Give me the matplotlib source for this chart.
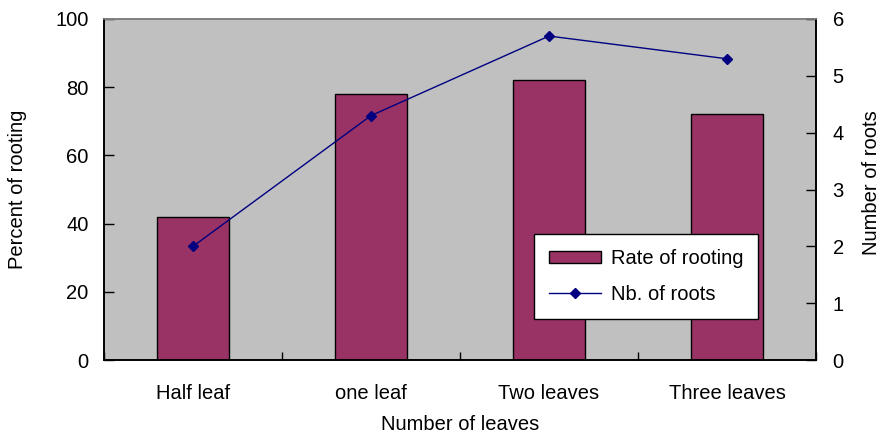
import numpy as np
import matplotlib.pyplot as plt
from matplotlib.lines import Line2D
from matplotlib.patches import Patch

# rooting results per cutting type
categories = ['Half leaf', 'one leaf', 'Two leaves', 'Three leaves']
rate_of_rooting = [42, 78, 82, 72]
no_of_roots = [2.0, 4.3, 5.7, 5.3]

plt.rcParams['font.family'] = ['Liberation Sans', 'DejaVu Sans']
fs = 14.5

fig = plt.figure(figsize=(8.83, 4.42), dpi=100)
ax = fig.add_axes([104 / 883, 1 - 360 / 442, 712 / 883, 341 / 442])
ax2 = ax.twinx()

x = np.arange(len(categories))
ax.bar(x, rate_of_rooting, width=0.4, color='#993366', edgecolor='black', linewidth=1, zorder=2)
ax.set_facecolor('#C0C0C0')
ax.set_xlim(-0.5, len(categories) - 0.5)
ax.set_ylim(0, 100)
ax.set_yticks(range(0, 101, 20))

ax2.plot(x, no_of_roots, color='#000080', marker='D', markersize=5, linewidth=1)
ax2.set_ylim(0, 6)
ax2.set_yticks(range(0, 7))

# category boundaries as ticks, labels centred under the bars
ax.set_xticks(np.arange(-0.5, len(categories), 1.0))
ax.set_xticklabels([])
ax.set_xticks(x, minor=True)
ax.set_xticklabels(categories, minor=True, fontsize=fs)
ax.tick_params(axis='x', which='minor', length=0, pad=17)
ax.tick_params(axis='x', which='major', direction='in', length=6, width=1)
ax.tick_params(axis='y', direction='in', length=7, width=1, labelsize=fs, pad=11)
ax2.tick_params(axis='y', direction='in', length=7, width=1, labelsize=fs, pad=12)

for a in (ax, ax2):
    for s in a.spines.values():
        s.set_linewidth(1.2)
        s.set_color('black')
ax.spines['top'].set_color('#808080')
ax2.spines['top'].set_color('#808080')

ax.set_xlabel('Number of leaves', fontsize=fs, va='center')
ax.xaxis.set_label_coords(0.5, (360 - 425) / 341)
ax.set_ylabel('Percent of rooting', fontsize=fs, va='center')
ax.yaxis.set_label_coords((18 - 104) / 712, 0.5)
ax2.set_ylabel('Number of roots', fontsize=fs, va='center')
ax2.yaxis.set_label_coords((871 - 104) / 712, 0.52)

handles = [Patch(facecolor='#993366', edgecolor='black', linewidth=1),
           Line2D([], [], color='#000080', marker='D', markersize=5, linewidth=1)]
leg = ax.legend(handles, ['Rate of rooting', 'Nb. of roots'], loc='upper left',
                bbox_to_anchor=((534 - 104) / 712, (360 - 234) / 341),
                borderaxespad=0, frameon=True, fancybox=False, fontsize=fs,
                handlelength=2.6, handleheight=0.6, borderpad=0.75,
                labelspacing=0.85, handletextpad=0.45)
leg.get_frame().set_edgecolor('black')
leg.get_frame().set_linewidth(1)
leg.get_frame().set_facecolor('white')
leg.get_frame().set_alpha(1)
leg.remove()
ax2.add_artist(leg)

fig.savefig('out.png', dpi=100)
